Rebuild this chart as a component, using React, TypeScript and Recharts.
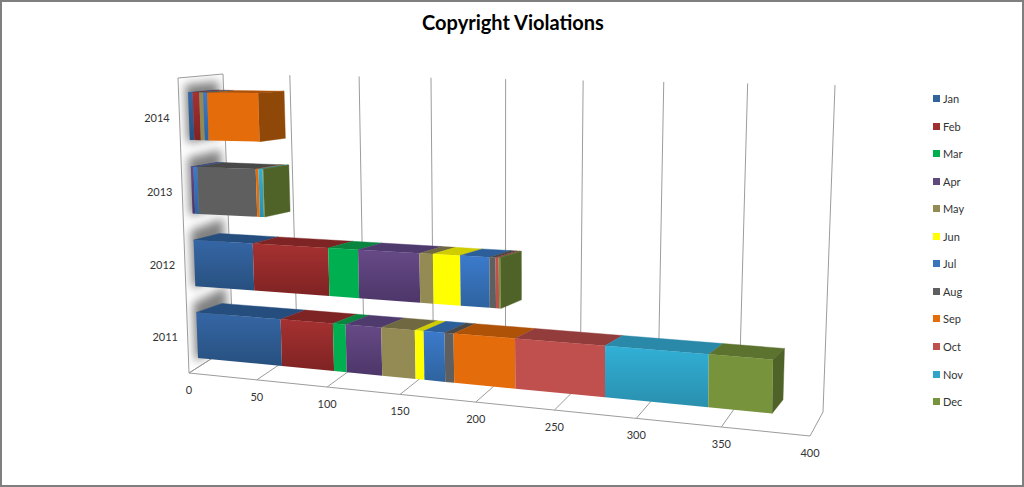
// 3D look stacked bar chart: recharts scales give the rects, we tilt them with a perspective map
import React from 'react';
import { BarChart, Bar, XAxis, YAxis, CartesianGrid, Legend } from 'recharts';

const years = ['2014', '2013', '2012', '2011'];
const months = ['Jan', 'Feb', 'Mar', 'Apr', 'May', 'Jun', 'Jul', 'Aug', 'Sep', 'Oct', 'Nov', 'Dec'];
const xTicks = [0, 50, 100, 150, 200, 250, 300, 350, 400];

const jan = [3.5, 0, 45, 64];
const feb = [5, 0, 55, 38];
const mar = [0, 0, 21, 9];
const apr = [0, 2, 42, 25];
const may = [3, 0, 9, 23];
const jun = [0, 0, 18, 6];
const jul = [3, 3, 19, 14];
const aug = [0, 44, 4, 6];
const sep = [38, 2, 0, 40];
const oct = [0, 0, 2, 56];
const nov = [0, 3, 0, 61];
const dec = [0, 0.5, 1, 36];
const seriesValues = [jan, feb, mar, apr, may, jun, jul, aug, sep, oct, nov, dec];

// legend colour, front top, front bottom, top face, side face
const colors = [
  ['#31639F', '#3566A5', '#27507F', '#254E7E', '#254E7E'],
  ['#A02F2F', '#A63131', '#7F2323', '#7F2424', '#7F2424'],
  ['#00B050', '#00B050', '#00B050', '#0A8540', '#0A8540'],
  ['#604A7B', '#664A87', '#4D3669', '#4F3A6E', '#4F3A6E'],
  ['#948A54', '#948A54', '#948A54', '#6F6840', '#6F6840'],
  ['#FFFF00', '#FFFF00', '#FFFF00', '#CFCC00', '#CFCC00'],
  ['#3A74BD', '#3B7ACC', '#2E639E', '#2C5F99', '#2C5F99'],
  ['#5F5F5F', '#5F5F5F', '#5F5F5F', '#484848', '#484848'],
  ['#E46C0A', '#E46C0A', '#E46C0A', '#AE5207', '#8F4807'],
  ['#C0504D', '#C0504D', '#C0504D', '#923D3B', '#923D3B'],
  ['#31A5C8', '#31B0D6', '#2A8FAD', '#2A88A8', '#2A88A8'],
  ['#77933C', '#77933C', '#77933C', '#5C7330', '#4F6228'],
];

const data = years.map((year, i) => {
  const row: Record<string, any> = { year };
  months.forEach((m, j) => {
    row[m] = seriesValues[j][i];
  });
  return row;
});

const W = 1024;
const H = 487;
const margin = { top: 60, right: 100, bottom: 20, left: 20 };
const yAxisW = 60;
const xAxisH = 30;
const plot = {
  x: margin.left + yAxisW,
  y: margin.top,
  w: W - margin.left - margin.right - yAxisW,
  h: H - margin.top - margin.bottom - xAxisH,
};

type Pt = [number, number];

// unit square -> quad (order: top-left, top-right, bottom-right, bottom-left)
function quadMap(q: Pt[]) {
  const [[x0, y0], [x1, y1], [x2, y2], [x3, y3]] = q;
  const sx = x0 - x1 + x2 - x3;
  const sy = y0 - y1 + y2 - y3;
  const dx1 = x1 - x2;
  const dx2 = x3 - x2;
  const dy1 = y1 - y2;
  const dy2 = y3 - y2;
  const det = dx1 * dy2 - dx2 * dy1;
  const g = (sx * dy2 - dx2 * sy) / det;
  const h = (dx1 * sy - sx * dy1) / det;
  const a = x1 - x0 + g * x1;
  const b = x3 - x0 + h * x3;
  const d = y1 - y0 + g * y1;
  const e = y3 - y0 + h * y3;
  return (u: number, v: number): Pt => {
    const w = g * u + h * v + 1;
    return [(a * u + b * v + x0) / w, (d * u + e * v + y0) / w];
  };
}

// position along a receding edge, near end on the right
const edge = (p: Pt, q: Pt) => (t: number): Pt => {
  const r = 0.858;
  const s = (r * t) / (1 - t + r * t);
  return [p[0] + s * (q[0] - p[0]), p[1] + s * (q[1] - p[1])];
};

const barFront = quadMap([[187.5, 79], [819, 82], [812, 433], [198.5, 371]]);
const barBack = quadMap([[214, 77], [832, 84], [821, 418], [224, 360]]);
const side = quadMap([[178, 78], [223, 74], [233, 345], [189, 373]]);
const wallTop = edge([223, 74], [835, 85]);
const wallBottom = edge([233, 345], [823, 412]);
const floorFront = edge([189, 373], [810, 436]);

const toU = (x: number) => (x - plot.x) / plot.w;
const toV = (y: number) => (y - plot.y) / plot.h;
const pts = (list: Pt[]) => list.map((p) => p.join(',')).join(' ');

const GRID = '#9c9c9c';

function Segment(props: any, idx: number) {
  const { x, y, width, height, payload } = props;
  if (!width || width <= 0) return <g />;
  const u0 = toU(x);
  const u1 = toU(x + width);
  const v0 = toV(y);
  const v1 = toV(y + height);
  const isLast = months.every((m, j) => j <= idx || !payload[m]);
  const c = colors[idx];
  return (
    <g>
      <polygon
        points={pts([barFront(u0, v0), barFront(u1, v0), barBack(u1, v0), barBack(u0, v0)])}
        fill={c[3]}
        stroke={c[3]}
        strokeWidth={0.4}
      />
      {isLast && (
        <polygon
          points={pts([barFront(u1, v0), barBack(u1, v0), barBack(u1, v1), barFront(u1, v1)])}
          fill={c[4]}
          stroke={c[4]}
          strokeWidth={0.4}
        />
      )}
      <polygon
        points={pts([barFront(u0, v0), barFront(u1, v0), barFront(u1, v1), barFront(u0, v1)])}
        fill={`url(#front${idx})`}
      />
    </g>
  );
}

function VerticalGrid(props: any) {
  const u = toU(props.x1);
  const a = wallTop(u);
  const b = wallBottom(u);
  const c = floorFront(u);
  return (
    <g>
      {u > 0.001 && <line x1={a[0]} y1={a[1]} x2={b[0]} y2={b[1]} stroke={GRID} />}
      <line x1={b[0]} y1={b[1]} x2={c[0]} y2={c[1]} stroke={GRID} />
    </g>
  );
}

function WallShadow(props: any) {
  const bandH = plot.h / years.length;
  const v = toV(props.y1);
  if (v <= 0.001 || v >= 0.999) return <g />;
  const half = (bandH * 0.4) / plot.h;
  return (
    <g clipPath="url(#sideClip)">
      <polygon
        points={pts([side(0.14, v - half), side(0.88, v - half), side(0.88, v + half), side(0.14, v + half)])}
        fill="#808080"
        filter="url(#wallBlur)"
      />
    </g>
  );
}

function XTick(props: any) {
  const [px, py] = floorFront(toU(props.x));
  return (
    <text x={px} y={py + 21} textAnchor="middle" fontSize={11} fill="#333">
      {props.payload.value}
    </text>
  );
}

function YTick(props: any) {
  const [px, py] = barFront(0, toV(props.y));
  return (
    <text x={px - 32} y={py + 6} textAnchor="middle" fontSize={11} fill="#333">
      {props.payload.value}
    </text>
  );
}

function LegendList() {
  return (
    <div>
      {months.map((m, i) => (
        <div
          key={m}
          style={{
            position: 'absolute',
            left: 0,
            top: i * 27.55,
            height: 14,
            display: 'flex',
            alignItems: 'center',
            fontSize: 11,
            color: '#333',
            whiteSpace: 'nowrap',
          }}
        >
          <span style={{ width: 7, height: 7, background: colors[i][0], marginRight: 3, display: 'inline-block' }} />
          {m}
        </div>
      ))}
    </div>
  );
}

export default function App() {
  return (
    <div
      style={{
        position: 'relative',
        width: W,
        height: H,
        boxSizing: 'border-box',
        border: '2px solid #7f7f7f',
        fontFamily: 'Lato, sans-serif',
        background: '#fff',
        overflow: 'hidden',
      }}
    >
      <style>{'body{margin:0}'}</style>
      <div
        style={{
          position: 'absolute',
          left: -1,
          top: 8,
          width: W,
          textAlign: 'center',
          fontWeight: 700,
          fontSize: 20,
          color: '#000',
        }}
      >
        Copyright Violations
      </div>
      <div style={{ position: 'absolute', left: -2, top: -2 }}>
        <BarChart width={W} height={H} data={data} layout="vertical" margin={margin} barCategoryGap="18%">
          <defs>
            {colors.map((c, i) => (
              <linearGradient key={i} id={`front${i}`} x1="0" y1="0" x2="0" y2="1">
                <stop offset="0" stopColor={c[1]} />
                <stop offset="1" stopColor={c[2]} />
              </linearGradient>
            ))}
            <filter id="wallBlur" x="-40%" y="-40%" width="180%" height="180%">
              <feGaussianBlur stdDeviation="5" />
            </filter>
            <clipPath id="sideClip">
              <polygon points={pts([side(0, 0), side(1, 0), side(1, 1), side(0, 1)])} />
            </clipPath>
          </defs>
          <polygon
            points={pts([side(0, 0), side(1, 0), side(1, 1), side(0, 1)])}
            fill="none"
            stroke={GRID}
          />
          <line
            x1={floorFront(0)[0]}
            y1={floorFront(0)[1]}
            x2={floorFront(1)[0]}
            y2={floorFront(1)[1]}
            stroke={GRID}
          />
          <CartesianGrid vertical={VerticalGrid} horizontal={WallShadow} />
          <XAxis
            type="number"
            domain={[0, 400]}
            ticks={xTicks}
            interval={0}
            height={xAxisH}
            axisLine={false}
            tickLine={false}
            tick={XTick}
          />
          <YAxis
            type="category"
            dataKey="year"
            width={yAxisW}
            axisLine={false}
            tickLine={false}
            tick={YTick}
          />
          <Legend
            content={LegendList}
            layout="horizontal"
            verticalAlign="middle"
            wrapperStyle={{ position: 'absolute', left: 933, top: 91.5, width: 60, height: 320 }}
          />
          {months.map((m, i) => (
            <Bar
              key={m}
              dataKey={m}
              stackId="total"
              fill={colors[i][0]}
              isAnimationActive={false}
              shape={(p: any) => Segment(p, i)}
            />
          ))}
        </BarChart>
      </div>
    </div>
  );
}
